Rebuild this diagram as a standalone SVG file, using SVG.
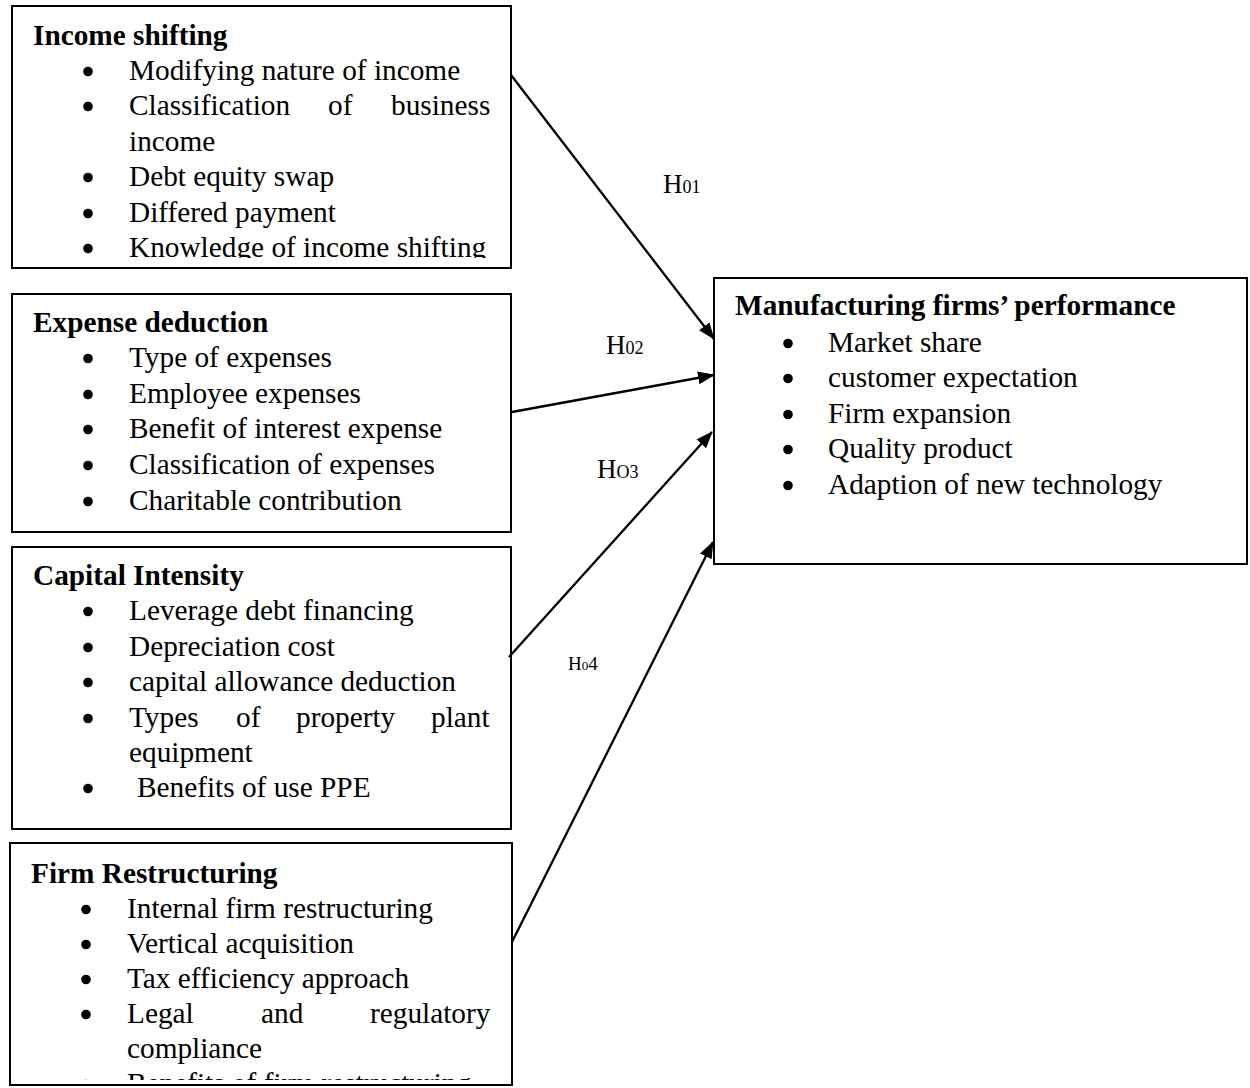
<svg xmlns="http://www.w3.org/2000/svg" xmlns:xlink="http://www.w3.org/1999/xlink" width="1250" height="1088" viewBox="0 0 1250 1088">
<style>
.box{fill:#fff;stroke:#000;stroke-width:2}
.t{font-family:"Liberation Serif","Times New Roman",serif;font-size:29.3px;fill:#000}
.h{font-weight:bold}
.lbl{font-family:"Liberation Serif","Times New Roman",serif;font-size:27px;fill:#000}
.sub{font-size:18px}
.con{fill:none;stroke:#000;stroke-width:2.3}
</style>
<defs>
<circle id="b" r="4.8" fill="#000"/>
<marker id="arr" markerUnits="userSpaceOnUse" markerWidth="18" markerHeight="14" refX="16" refY="6.5" orient="auto">
<path d="M0,0 L17,6.5 L0,13 z" fill="#000"/>
</marker>
<clipPath id="c1"><rect x="0" y="0" width="520" height="258"/></clipPath>
<clipPath id="c4"><rect x="0" y="830" width="520" height="250"/></clipPath>
</defs>
<rect width="1250" height="1088" fill="#fff"/>

<g id="income-shifting">
<rect class="box" x="12" y="6" width="499" height="262"/>
<text class="t h" x="33" y="45">Income shifting</text>
<use href="#b" x="88" y="71.5"/><text class="t" x="129" y="80">Modifying nature of income</text>
<use href="#b" x="88" y="106.5"/><text class="t" y="115"><tspan x="129">Classification</tspan><tspan x="328">of</tspan><tspan x="391">business</tspan></text>
<text class="t" x="129" y="151">income</text>
<use href="#b" x="88" y="177.5"/><text class="t" x="129" y="186">Debt equity swap</text>
<use href="#b" x="88" y="213.5"/><text class="t" x="129" y="222">Differed payment</text>
<g clip-path="url(#c1)"><use href="#b" x="88" y="248.5"/><text class="t" x="129" y="257">Knowledge of income shifting</text></g>
</g>

<g id="expense-deduction">
<rect class="box" x="12" y="294" width="499" height="238"/>
<text class="t h" x="33" y="332">Expense deduction</text>
<use href="#b" x="88" y="358.5"/><text class="t" x="129" y="367">Type of expenses</text>
<use href="#b" x="88" y="394.5"/><text class="t" x="129" y="403">Employee expenses</text>
<use href="#b" x="88" y="429.5"/><text class="t" x="129" y="438">Benefit of interest expense</text>
<use href="#b" x="88" y="465.5"/><text class="t" x="129" y="474">Classification of expenses</text>
<use href="#b" x="88" y="501.5"/><text class="t" x="129" y="510">Charitable contribution</text>
</g>

<g id="capital-intensity">
<rect class="box" x="12" y="547" width="499" height="282"/>
<text class="t h" x="33" y="585">Capital Intensity</text>
<use href="#b" x="88" y="611.5"/><text class="t" x="129" y="620">Leverage debt financing</text>
<use href="#b" x="88" y="647.5"/><text class="t" x="129" y="656">Depreciation cost</text>
<use href="#b" x="88" y="682.5"/><text class="t" x="129" y="691">capital allowance deduction</text>
<use href="#b" x="88" y="718.5"/><text class="t" y="727"><tspan x="129">Types</tspan><tspan x="236">of</tspan><tspan x="296">property</tspan><tspan x="431">plant</tspan></text>
<text class="t" x="129" y="762">equipment</text>
<use href="#b" x="88" y="788.5"/><text class="t" x="137" y="797">Benefits of use PPE</text>
</g>

<g id="firm-restructuring">
<rect class="box" x="10" y="843" width="502" height="242"/>
<text class="t h" x="31" y="883">Firm Restructuring</text>
<use href="#b" x="86" y="909.5"/><text class="t" x="127" y="918">Internal firm restructuring</text>
<use href="#b" x="86" y="944.5"/><text class="t" x="127" y="953">Vertical acquisition</text>
<use href="#b" x="86" y="979.5"/><text class="t" x="127" y="988">Tax efficiency approach</text>
<use href="#b" x="86" y="1014.5"/><text class="t" y="1023"><tspan x="127">Legal</tspan><tspan x="261">and</tspan><tspan x="370">regulatory</tspan></text>
<text class="t" x="127" y="1058">compliance</text>
<g clip-path="url(#c4)"><use href="#b" x="86" y="1084.5"/><text class="t" x="127" y="1093">Benefits of firm restructuring</text></g>
</g>

<g id="performance">
<rect class="box" x="714" y="278" width="533" height="286"/>
<text class="t h" x="735" y="315">Manufacturing firms’ performance</text>
<use href="#b" x="788" y="343.5"/><text class="t" x="828" y="352">Market share</text>
<use href="#b" x="788" y="378.5"/><text class="t" x="828" y="387">customer expectation</text>
<use href="#b" x="788" y="414.5"/><text class="t" x="828" y="423">Firm expansion</text>
<use href="#b" x="788" y="449.5"/><text class="t" x="828" y="458">Quality product</text>
<use href="#b" x="788" y="485.5"/><text class="t" x="828" y="494">Adaption of new technology</text>
</g>

<g id="connectors">
<line class="con" x1="511" y1="75" x2="714" y2="339" marker-end="url(#arr)"/>
<line class="con" x1="512" y1="412" x2="714" y2="375" marker-end="url(#arr)"/>
<line class="con" x1="509" y1="657" x2="712" y2="432" marker-end="url(#arr)"/>
<line class="con" x1="512" y1="942" x2="713" y2="542" marker-end="url(#arr)"/>
</g>

<g id="labels">
<text class="lbl" x="663" y="193">H<tspan class="sub">01</tspan></text>
<text class="lbl" x="606" y="354">H<tspan class="sub">02</tspan></text>
<text class="lbl" x="597" y="478">H<tspan class="sub">O3</tspan></text>
<text class="lbl" x="568" y="670" style="font-size:19px">H<tspan style="font-size:13px">0</tspan>4</text>
</g>
</svg>
